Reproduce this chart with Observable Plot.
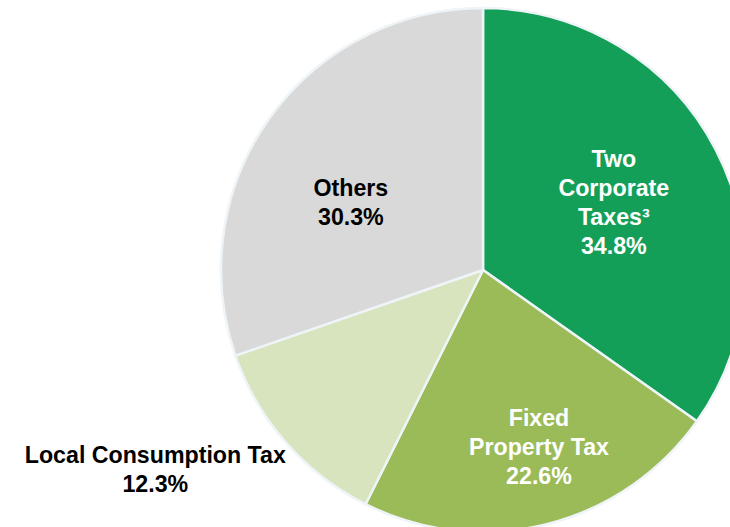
<!DOCTYPE html>
<html>
<head>
<meta charset="utf-8">
<script src="https://cdn.jsdelivr.net/npm/d3@7"></script>
<script src="https://cdn.jsdelivr.net/npm/@observablehq/plot@0.6"></script>
<style>
  html, body { margin: 0; padding: 0; background: #ffffff; }
  #chart svg { display: block; }
</style>
</head>
<body>
<div id="chart"></div>
<script>
// ---- data ----
const categories = ["Two Corporate Taxes", "Fixed Property Tax", "Local Consumption Tax", "Others"];
const shares = [34.8, 22.6, 12.3, 30.3];
const labelTexts = ["Two\nCorporate\nTaxes³", "Fixed\nProperty Tax", "Local Consumption Tax", "Others"];

// ---- styles / layout (not data) ----
const sliceColors = ["#139f58", "#9bbb59", "#d7e4bd", "#d9d9d9"];
const labelColors = ["#ffffff", "#ffffff", "#000000", "#000000"];
const labelLayout = [
  {r: 0.56, dx: 0, dy: -2},
  {r: 0.70, dx: 11, dy: -3},
  {r: 1.30, dx: -72, dy: -27},
  {r: 0.57, dx: -11, dy: 17}
];

const rows = categories.map((c, i) => ({
  category: c,
  share: shares[i],
  label: `${labelTexts[i]}\n${shares[i].toFixed(1)}%`,
  i
}));
const arcs = d3.pie().sort(null).value(d => d.share)(rows);

// label anchor points in data units (unit = pie radius), from the arc mid-angles
const labels = arcs.map((a, i) => {
  const mid = (a.startAngle + a.endAngle) / 2;
  const r = labelLayout[i].r;
  return {...a.data, lx: r * Math.sin(mid), ly: r * Math.cos(mid)};
});

// pixel geometry: center at (483,270), radius 262 within a 730x527 frame
const W = 730, H = 527, CX = 483, CY = 270, R = 262;
const xDomain = [(0 - CX) / R, (W - CX) / R];
const yDomain = [-(H - CY) / R, CY / R];

function pieMark(index, scales, values, dimensions) {
  const x = scales.x, y = scales.y;
  const cx = x(0), cy = y(0);
  const r = x(1) - x(0);
  const arc = d3.arc().innerRadius(0).outerRadius(r);
  const g = d3.create("svg:g").attr("transform", `translate(${cx},${cy})`);
  g.selectAll("path")
    .data(arcs)
    .join("path")
    .attr("d", arc)
    .attr("fill", (d, i) => scales.color ? scales.color(d.data.category) : sliceColors[i])
    .attr("stroke", "#eef4f7")
    .attr("stroke-width", 2.5)
    .attr("stroke-linejoin", "round");
  return g.node();
}

const textMarks = labels.map((d, i) => Plot.text([d], {
  x: "lx", y: "ly", text: "label",
  fill: labelColors[i],
  dx: labelLayout[i].dx, dy: labelLayout[i].dy,
  fontSize: 23.2, fontWeight: "bold", lineHeight: 1.25,
  textAnchor: "middle"
}));

const chart = Plot.plot({
  width: W, height: H,
  margin: 0,
  style: {fontFamily: "'Liberation Sans', Arial, Helvetica, sans-serif", background: "#ffffff", overflow: "hidden"},
  x: {domain: xDomain, axis: null},
  y: {domain: yDomain, axis: null},
  color: {domain: categories, range: sliceColors},
  marks: [pieMark, ...textMarks]
});
document.getElementById("chart").appendChild(chart);
</script>
</body>
</html>
